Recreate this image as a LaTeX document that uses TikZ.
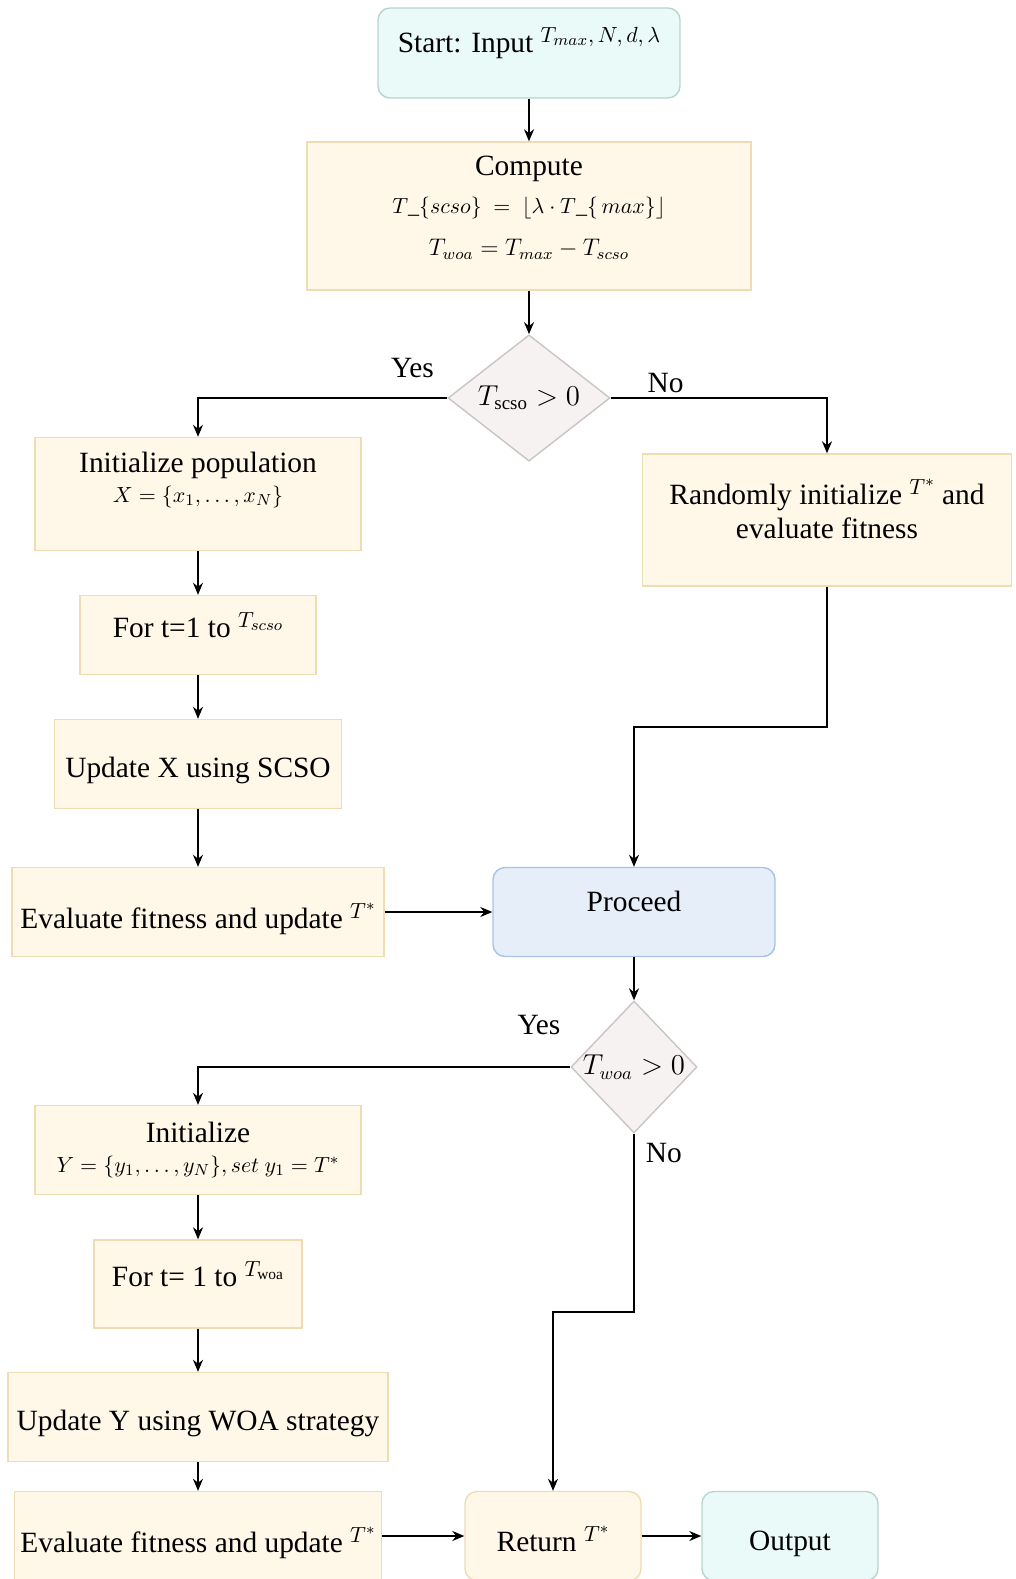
\documentclass[tikz,border=0pt]{standalone}
\usepackage{amsmath,amssymb}
\usepackage{fontspec}
\setmainfont{Liberation Serif}
\usetikzlibrary{arrows.meta, positioning, shapes.geometric}

\definecolor{termfill}{HTML}{EAFAF8}
\definecolor{termline}{HTML}{B7D5CF}
\definecolor{stepfill}{HTML}{FFF8E9}
\definecolor{stepline}{HTML}{F0DCB2}
\definecolor{procfill}{HTML}{E6EEFA}
\definecolor{procline}{HTML}{A8C2EA}
\definecolor{decfill}{HTML}{F6F2F2}
\definecolor{decline}{HTML}{CBC4C4}

\newcommand{\eqsize}{\fontsize{11}{14}\selectfont}
\newcommand{\raisedmath}[1]{\raisebox{5pt}{\fontsize{11}{13}\selectfont$#1$}}

\tikzset{
  stepbox/.style={rectangle, draw=stepline, fill=stepfill, line width=0.7pt, inner sep=2pt, align=center},
  termbox/.style={stepbox, rounded corners=6pt, draw=termline, fill=termfill},
  procbox/.style={stepbox, rounded corners=6pt, draw=procline, fill=procfill},
  decision/.style={diamond, draw=decline, fill=decfill, line width=0.7pt, inner sep=0pt, font=\fontsize{13.5}{15}\selectfont},
  lift/.style={text depth=#1},
  sink/.style={text height=#1},
  lbl/.style={inner sep=2pt},
}

\begin{document}
\begin{tikzpicture}[on grid, font=\fontsize{14.7}{17}\selectfont, >={Stealth[length=6pt,width=5pt]}, line width=0.8pt]

    \useasboundingbox (0,0) rectangle (508pt,-789.5pt);

    % first phase: SCSO
    \node[termbox, minimum width=151pt, minimum height=45pt, lift=13pt] (start) at (264.5pt,-26.5pt) {Start: Input \raisedmath{T_{max}, N, d, \lambda}};
    \node[stepbox, minimum width=222pt, minimum height=74pt, lift=10pt]  (compute)  [below=81.5pt of start]  {Compute\\[2pt] {\eqsize$T\_\{scso\}\ =\ \lfloor\lambda\cdot T\_\{\,max\}\rfloor$}\\[4pt] {\fontsize{12}{15}\selectfont$T_{woa} = T_{max} - T_{scso}$}};
    \node[decision, minimum width=81pt, minimum height=63pt]  (dec1)     [below=91pt of compute]  {$T_{\mathrm{scso}} > 0$};
    \node[stepbox, minimum width=163pt, minimum height=56.5pt, lift=17pt] (initpop) [below left=48pt and 165.5pt of dec1] {Initialize population\\[-2pt] {\eqsize$X = \{x_1, \dots, x_N\}$}};
    \node[stepbox, minimum width=184.5pt, minimum height=66pt, lift=11pt] (randinit) [below right=61pt and 149pt of dec1] {Randomly initialize \raisedmath{T^*} and\\ evaluate fitness};
    \node[stepbox, minimum width=118pt, minimum height=39.5pt, lift=10pt] (fort1) [below=70.5pt of initpop] {For t=1 to \raisedmath{T_{scso}}};
    \node[stepbox, minimum width=143.5pt, minimum height=44.5pt, sink=17pt] (updx)  [below=64.5pt of fort1]   {Update X using SCSO};
    \node[stepbox, minimum width=186pt, minimum height=44.5pt, sink=20pt]   (eval1) [below=74pt of updx]     {Evaluate fitness and update \raisedmath{T^*}};
    \node[procbox, minimum width=141pt, minimum height=44.5pt, lift=11pt] (proceed) [right=218pt of eval1] {Proceed};

    % second phase: WOA
    \node[decision, minimum width=63pt, minimum height=66pt]   (dec2)  [below=77.5pt of proceed] {$T_{woa} > 0$};
    \node[stepbox, minimum width=163pt, minimum height=44.5pt] (init2) [below left=41.5pt and 218pt of dec2] {Initialize\\[-2pt] {\eqsize$Y = \{y_1, \dots, y_N\}, set\ y_1 = T^*$}};
    \node[stepbox, minimum width=104pt, minimum height=44pt, lift=10pt] (fort2) [below=67pt of init2] {For t= 1 to \raisedmath{T_{\mathrm{woa}}}};
    \node[stepbox, minimum width=190pt, minimum height=44.5pt, sink=17pt]   (updy)  [below=66.5pt of fort2]  {Update Y using WOA strategy};
    \node[stepbox, minimum width=183.5pt, minimum height=44.5pt, sink=20pt] (eval2) [below=59.5pt of updy]   {Evaluate fitness and update \raisedmath{T^*}};
    \node[stepbox, rounded corners=6pt, minimum width=88pt, minimum height=44.5pt, sink=16pt] (ret) [right=177.5pt of eval2] {Return \raisedmath{T^*}};
    \node[termbox, minimum width=88pt, minimum height=44.5pt, sink=18pt]    (output) [right=118.5pt of ret]  {Output};

    \coordinate (bend1) at (317pt,-363.5pt);
    \coordinate (bend2) at (276.5pt,-656pt);

    \path[->] (start) edge (compute)
        (compute) edge (dec1)
        (initpop) edge (fort1)
        (fort1) edge (updx)
        (updx) edge (eval1)
        (eval1) edge (proceed)
        (proceed) edge (dec2)
        (init2) edge (fort2)
        (fort2) edge (updy)
        (updy) edge (eval2)
        (eval2) edge (ret)
        (ret) edge (output)
        ;

    \draw[->] (dec1.west) -| node[lbl, pos=0.07, above=7.5pt] {Yes} (initpop.north);
    \draw[->] (dec1.east) -| node[lbl, pos=0.127, above=0pt] {No} (randinit.north);
    \draw[->] (randinit.south) |- (bend1) -- (proceed.north);
    \draw[->] (dec2.west) -| node[lbl, pos=0.042, above=13.5pt] {Yes} (init2.north);
    \draw[->] (dec2.south) |- node[lbl, pos=0.053, right=3.5pt] {No} (bend2) -- (ret.north);
\end{tikzpicture}
\end{document}
